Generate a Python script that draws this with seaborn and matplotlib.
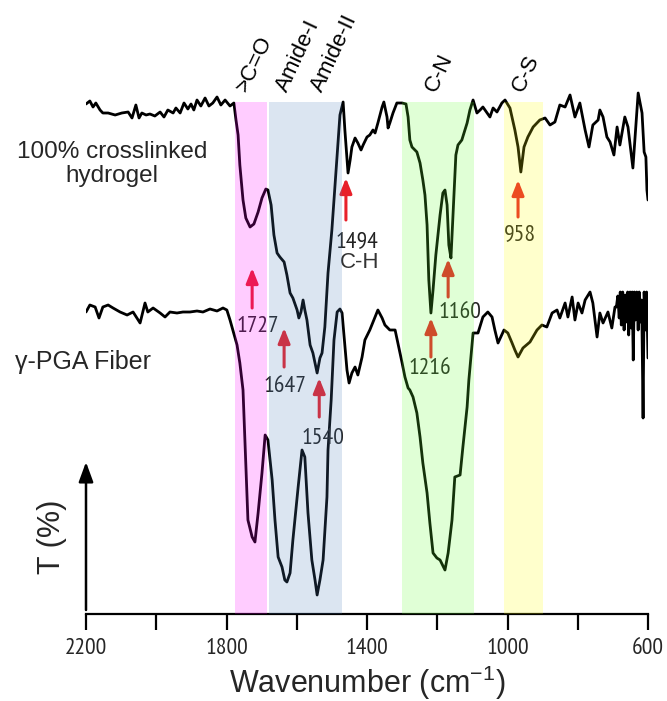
import matplotlib
matplotlib.use("Agg")
import numpy as np
import pandas as pd
import seaborn as sns
import matplotlib.pyplot as plt
from matplotlib import font_manager

# --- spectra (wavenumber in cm-1, transmittance in arb. units) ---
hydrogel_wn = [2200, 2189, 2180, 2172, 2160, 2152, 2137, 2117, 2098, 2080, 2069, 2058, 2049,
               2041, 2029, 2018, 2004, 1989, 1978, 1967, 1952, 1944, 1932, 1921, 1910, 1901,
               1893, 1884, 1873, 1861, 1850, 1839, 1827, 1816, 1804, 1790, 1779,
               1773, 1767, 1762, 1753, 1745, 1733, 1722, 1710, 1699, 1688, 1682, 1673, 1665,
               1656, 1648, 1636, 1628, 1619, 1611, 1599, 1594, 1588, 1582, 1577, 1571, 1562,
               1554, 1542, 1534, 1528, 1520, 1511, 1500, 1488, 1477, 1468,
               1463, 1454, 1448, 1443, 1434, 1426, 1417, 1411, 1400, 1392, 1383, 1377, 1369,
               1357, 1352, 1343, 1340, 1335, 1326, 1315, 1300, 1289, 1283, 1278, 1272, 1258,
               1249, 1241, 1235, 1229, 1224, 1218,
               1212, 1204, 1192, 1184, 1178, 1172, 1167, 1161, 1155, 1147, 1141, 1130, 1115,
               1107, 1098, 1087, 1078, 1070, 1058, 1050, 1041, 1030, 1016, 1007, 993, 979,
               970, 962, 953, 942, 927, 908, 893, 879, 865, 851, 836, 822, 808, 794, 779, 768,
               757, 742, 737, 728, 717, 708, 697, 688, 680, 666, 657, 643, 628, 617, 611, 606,
               603, 600]
hydrogel_t = [510, 513, 507, 511, 504, 501, 501, 499, 501, 502, 496, 509, 496,
              501, 499, 500, 498, 502, 497, 504, 501, 506, 501, 511, 505, 510,
              504, 514, 508, 516, 508, 511, 517, 509, 514, 508, 511,
              494, 479, 449, 414, 396, 387, 390, 402, 416, 425, 424, 409, 379,
              361, 357, 352, 339, 321, 316, 304, 296, 302, 314, 304, 294, 269,
              261, 241, 256, 261, 287, 341, 384, 444, 499, 512,
              484, 441, 454, 467, 476, 471, 464, 469, 477, 479, 484, 481, 491,
              507, 512, 497, 486, 491, 501, 511, 511, 510, 497, 474, 467, 462,
              451, 434, 419, 389, 334, 301,
              324, 359, 399, 421, 424, 409, 369, 356, 399, 459, 469, 474, 491,
              504, 514, 501, 504, 507, 501, 497, 506, 502, 511, 514, 506, 484,
              467, 442, 467, 477, 487, 494, 496, 489, 492, 509, 507, 519, 497, 511, 484, 467,
              489, 494, 504, 497, 477, 472, 459, 487, 469, 497, 487, 446, 521, 501, 462, 457,
              424, 414]

fiber_wn = [2200, 2189, 2174, 2163, 2152, 2137, 2123, 2103, 2083, 2066, 2046, 2032, 2024,
            2009, 1989, 1975, 1961, 1941, 1924, 1904, 1884, 1867, 1847, 1827, 1810, 1799,
            1790, 1782, 1770, 1762, 1753, 1747, 1739, 1727, 1719, 1710, 1699, 1690, 1682,
            1670, 1662, 1653, 1642, 1634, 1628, 1619, 1611, 1596, 1585, 1577, 1568, 1557,
            1548, 1542, 1534, 1525, 1514, 1511, 1502, 1494, 1485, 1477, 1471, 1465, 1457,
            1451, 1443, 1434, 1426, 1414, 1406, 1392, 1383, 1369, 1357, 1349, 1335, 1320,
            1312, 1300, 1292, 1283, 1278, 1269, 1258, 1249, 1241, 1229, 1221, 1212, 1201,
            1192, 1178, 1169, 1158, 1150, 1135, 1127, 1115, 1110, 1104, 1098, 1084, 1070,
            1056, 1044, 1036, 1027, 1019, 1010, 999, 987, 979, 970, 956, 936, 916, 902, 888,
            873, 859, 851, 836, 828, 816, 808, 799, 788, 779, 765, 757, 745, 737, 728, 714,
            703, 694, 690, 686, 682, 679, 676, 672, 668, 665, 661, 658, 655, 651, 648, 645,
            642, 639, 636, 632, 628, 625, 621, 618, 614, 611, 607, 604, 600]
fiber_t = [302, 309, 307, 296, 307, 309, 306, 302, 299, 302, 291, 311, 302,
           306, 301, 297, 302, 301, 302, 302, 303, 302, 305, 303, 306, 304,
           294, 284, 269, 251, 224, 167, 94, 77, 72, 101, 141, 179, 174,
           134, 94, 57, 47, 34, 32, 41, 74, 127, 164, 157, 101, 54,
           34, 19, 34, 54, 117, 164, 214, 274, 302, 305, 301, 277, 244,
           231, 241, 247, 239, 257, 274, 284, 292, 304, 296, 289, 284, 284,
           271, 251, 237, 226, 224, 217, 201, 177, 151, 121, 91, 61, 56,
           54, 44, 61, 94, 137, 139, 167, 207, 234, 257, 281, 281, 297,
           302, 297, 284, 271, 277, 284, 281, 271, 264, 257, 266, 272, 284, 289, 287,
           301, 304, 296, 311, 297, 317, 294, 311, 301, 314, 322, 311, 277, 301, 291, 302,
           286, 307, 307, 318, 296, 322, 289, 322, 284, 319, 292, 322, 279, 322, 286, 322,
           254, 322, 294, 322, 284, 322, 292, 314, 196, 322, 284, 322, 256]

# --- shaded assignment bands (cm-1) ---
span_lo = [1685, 1470, 1095, 900]
span_hi = [1775, 1680, 1300, 1010]
span_colors = ["#ff00ff", "#4f81bd", "#66ff33", "#ffff00"]
span_top = 512

# --- rotated band names above the spectra ---
band_names = [">C=O", "Amide-I", "Amide-II", "C-N", "C-S"]
band_label_wn = [1730, 1615, 1514, 1192, 942]

# --- peak markers: arrow position, label, arrow head/tail, label position ---
peak_wn = [1727, 1636, 1536, 1460, 1218, 1169, 970]
peak_text = ["1727", "1647", "1540", "1494", "1216", "1160", "958"]
peak_head = [346, 286, 236, 436, 296, 355, 434]
peak_tail = [306, 247, 197, 394, 257, 317, 397]
peak_lab_wn = [1710, 1633, 1525, 1428, 1221, 1135, 965]
peak_lab_t = [287, 227, 176, 372, 246, 302, 379]

sns.set_theme(style="white")
names = {f.name for f in font_manager.fontManager.ttflist}
sans = "Liberation Sans" if "Liberation Sans" in names else "DejaVu Sans"
narrow, num_size = sans, 14
for cand in ["PT Sans Narrow", "Roboto Condensed", "Open Sans Condensed", "Archivo Narrow"]:
    if cand in names:
        narrow, num_size = cand, 17
        break
plt.rcParams["font.family"] = [sans, "DejaVu Sans"]
plt.rcParams["mathtext.fontset"] = "custom"
plt.rcParams["mathtext.rm"] = sans

fig = plt.figure(figsize=(6.67, 7.01), dpi=100)
ax = fig.add_axes([86 / 667, 87 / 701, 562 / 667, 614 / 701])

hydro = pd.DataFrame({"wn": hydrogel_wn, "T": hydrogel_t})
fiber = pd.DataFrame({"wn": fiber_wn, "T": fiber_t})
sns.lineplot(data=hydro, x="wn", y="T", color="black", lw=2, estimator=None, ax=ax)
sns.lineplot(data=fiber, x="wn", y="T", color="black", lw=2, estimator=None, ax=ax)

# bands sit on top of the lines as a see-through overlay
for lo, hi, c in zip(span_lo, span_hi, span_colors):
    ax.fill_between([hi, lo], 0, span_top, color=c, alpha=0.2, lw=0, zorder=5)

for name, wn in zip(band_names, band_label_wn):
    ax.text(wn, 519, name, rotation=65, rotation_mode="anchor", ha="left", va="bottom",
            fontsize=16, color="black")

for wn, txt, h, t, lx, ly in zip(peak_wn, peak_text, peak_head, peak_tail,
                                 peak_lab_wn, peak_lab_t):
    ax.annotate("", xy=(wn, h), xytext=(wn, t),
                arrowprops=dict(arrowstyle="-|>,head_length=0.5,head_width=0.2",
                                color="#e8202a", lw=2.2, mutation_scale=18,
                                shrinkA=0, shrinkB=0))
    ax.text(lx, ly, txt, ha="center", va="center", fontsize=num_size,
            family=narrow, color="#222222")
ax.text(1420, 352, "C-H", ha="center", va="center", fontsize=16, color="#333333")

# T(%) arrow
ax.annotate("", xy=(2200, 152), xytext=(2200, 4),
            arrowprops=dict(arrowstyle="-|>,head_length=0.6,head_width=0.22",
                            color="black", lw=1.8, mutation_scale=20,
                            shrinkA=0, shrinkB=0),
            annotation_clip=False)

ax.set_xlim(2200, 600)
ax.set_ylim(0, 614)
for s in ["top", "left", "right"]:
    ax.spines[s].set_visible(False)
ax.spines["bottom"].set_linewidth(1.6)
ax.spines["bottom"].set_color("black")
ax.set_xticks([2200, 1800, 1400, 1000, 600])
ax.set_xticks([2000, 1600, 1200, 800], minor=True)
ax.set_yticks([])
ax.tick_params(axis="x", which="both", length=11.5, width=1.6, direction="out",
               color="black", pad=6, bottom=True)
for lab in ax.get_xticklabels():
    lab.set_family(narrow)
    lab.set_fontsize(num_size)
ax.set_xlabel("Wavenumber (cm$^{-1}$)", fontsize=22, labelpad=3)
ax.set_ylabel("")
ax.patch.set_alpha(0)

fig.text(52 / 667, 1 - 537 / 701, "T (%)", rotation=90, ha="center", va="center",
         fontsize=22)
fig.text(112 / 667, 1 - 164 / 701, "100% crosslinked\nhydrogel", ha="center",
         va="center", fontsize=17.5, linespacing=1.15, multialignment="center")
fig.text(15 / 667, 1 - 362 / 701, "\u03b3-PGA Fiber", ha="left", va="center",
         fontsize=18)

fig.savefig("out.png", dpi=100)
